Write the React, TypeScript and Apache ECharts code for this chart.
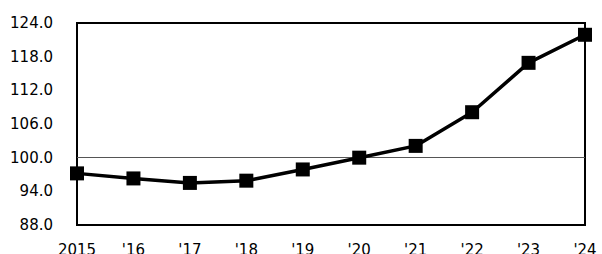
import React, { useEffect, useRef } from "react";
import * as echarts from "echarts";

const categories = ["2015", "'16", "'17", "'18", "'19", "'20", "'21", "'22", "'23", "'24"];
const values = [97.2, 96.3, 95.5, 95.9, 97.9, 100.0, 102.1, 108.1, 116.9, 121.9];
const yMin = 88;
const yMax = 124;
const yInterval = 6;
const baseline = 100;

export default function App() {
  const ref = useRef<HTMLDivElement>(null);
  useEffect(() => {
    if (!ref.current) return;
    const chart = echarts.init(ref.current, null, { renderer: "svg" });
    const font = "DejaVu Sans";
    chart.setOption({
      animation: false,
      backgroundColor: "#ffffff",
      grid: {
        left: 77,
        right: 17,
        top: 23,
        bottom: 29,
        containLabel: false,
        outerBoundsMode: "none",
        show: true,
        borderColor: "#000000",
        borderWidth: 2,
        backgroundColor: "transparent",
      },
      xAxis: {
        type: "category",
        data: categories,
        boundaryGap: false,
        axisLine: { show: false },
        axisTick: { show: false },
        splitLine: { show: false },
        axisLabel: {
          color: "#000000",
          fontFamily: font,
          fontSize: 15,
          margin: 17,
          interval: 0,
        },
      },
      yAxis: {
        type: "value",
        min: yMin,
        max: yMax,
        interval: yInterval,
        axisLine: { show: false },
        axisTick: { show: false },
        splitLine: { show: false },
        axisLabel: {
          color: "#000000",
          fontFamily: font,
          fontSize: 15,
          margin: 24,
          formatter: (v: number) => v.toFixed(1),
        },
      },
      series: [
        {
          type: "line",
          data: values,
          symbol: "rect",
          symbolSize: 14,
          showAllSymbol: true,
          lineStyle: { color: "#000000", width: 3.5 },
          itemStyle: { color: "#000000" },
          z: 5,
          markLine: {
            silent: true,
            symbol: ["none", "none"],
            label: { show: false },
            lineStyle: { color: "#555555", width: 1, type: "solid" },
            data: [{ yAxis: baseline }],
            z: 1,
          },
        },
      ],
    });
    return () => chart.dispose();
  }, []);
  return (
    <div
      ref={ref}
      style={{ position: "fixed", left: 0, top: 0, width: 602, height: 254 }}
    />
  );
}
